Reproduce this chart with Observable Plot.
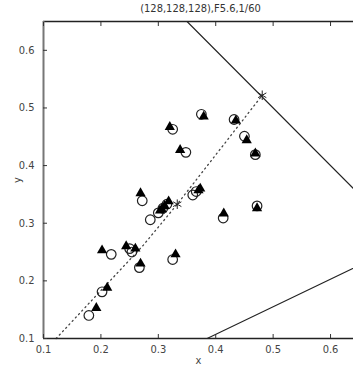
<!DOCTYPE html>
<html>
<head>
<meta charset="utf-8">
<script src="https://cdn.jsdelivr.net/npm/d3@7"></script>
<script src="https://cdn.jsdelivr.net/npm/@observablehq/plot@0.6"></script>
<style>
  html, body { margin: 0; padding: 0; background: #fff; overflow: hidden; }
  #title { height: 16px; width: 353px; font: 11px "DejaVu Sans Condensed", "Liberation Sans Narrow", sans-serif; color: #333; text-align: center; line-height: 17px; padding-left: 48px; box-sizing: border-box; }
</style>
</head>
<body>
<div id="title">(128,128,128),F5.6,1/60</div>
<div id="chart"></div>
<script>
// Open circles (x, y)
const circleX = [0.179, 0.202, 0.218, 0.254, 0.250, 0.267, 0.325, 0.286, 0.272, 0.300, 0.308, 0.315, 0.360, 0.366, 0.413, 0.472, 0.469, 0.450, 0.432, 0.375, 0.325, 0.348];
const circleY = [0.140, 0.181, 0.246, 0.250, 0.256, 0.223, 0.237, 0.306, 0.339, 0.318, 0.326, 0.333, 0.349, 0.355, 0.309, 0.330, 0.419, 0.451, 0.480, 0.489, 0.463, 0.423];
// Filled triangles (x, y)
const triX = [0.192, 0.211, 0.202, 0.244, 0.260, 0.269, 0.330, 0.303, 0.269, 0.306, 0.311, 0.318, 0.370, 0.373, 0.414, 0.472, 0.469, 0.454, 0.435, 0.379, 0.320, 0.338];
const triY = [0.153, 0.188, 0.253, 0.260, 0.256, 0.230, 0.246, 0.322, 0.352, 0.324, 0.330, 0.338, 0.357, 0.360, 0.317, 0.326, 0.421, 0.444, 0.478, 0.485, 0.467, 0.427];
// Asterisks
const starX = [0.333, 0.481];
const starY = [0.333, 0.522];
// Dotted line
const dotX = [0.122, 0.274, 0.333, 0.481];
const dotY = [0.100, 0.262, 0.333, 0.522];
// Solid lines
const line1X = [0.35, 0.65];
const line1Y = [0.65, 0.35];
const line2X = [0.385, 0.65];
const line2Y = [0.100, 0.227];
// Ticks
const xTicks = [0.1, 0.2, 0.3, 0.4, 0.5, 0.6];
const yTicks = [0.1, 0.2, 0.3, 0.4, 0.5, 0.6];

const circles = circleX.map((x, i) => ({x, y: circleY[i]}));
const tris = triX.map((x, i) => ({x, y: triY[i]}));
const stars = starX.map((x, i) => ({x, y: starY[i]}));
const dots = dotX.map((x, i) => ({x, y: dotY[i]}));
const l1 = line1X.map((x, i) => ({x, y: line1Y[i]}));
const l2 = line2X.map((x, i) => ({x, y: line2Y[i]}));

const font = '"DejaVu Sans Condensed", "Liberation Sans Narrow", sans-serif';

const chart = Plot.plot({
  width: 353,
  height: 353,
  marginLeft: 43,
  marginRight: 0,
  marginTop: 5,
  marginBottom: 31,
  style: {fontFamily: font, fontSize: "11px", color: "#444", background: "#fff"},
  x: {domain: [0.1, 0.64]},
  y: {domain: [0.1, 0.65]},
  marks: [
    Plot.line(dots, {x: "x", y: "y", stroke: "#444", strokeWidth: 1.3, strokeDasharray: "1.2,3.5"}),
    Plot.line(l1, {x: "x", y: "y", stroke: "#222", strokeWidth: 1.1, clip: true}),
    Plot.line(l2, {x: "x", y: "y", stroke: "#222", strokeWidth: 1.1, clip: true}),
    Plot.dot(circles, {x: "x", y: "y", r: 4.8, stroke: "#222", strokeWidth: 1.2, fill: "none"}),
    Plot.dot(tris, {x: "x", y: "y", r: 3.8, symbol: "triangle", fill: "#000", stroke: "none"}),
    Plot.dot(stars, {x: "x", y: "y", r: 4.5, symbol: "asterisk", stroke: "#222", strokeWidth: 1}),
    Plot.ruleY([0.65], {stroke: "#222", strokeWidth: 1.3}),
    Plot.ruleY([0.1], {stroke: "#222", strokeWidth: 1.5}),
    Plot.ruleX([0.1], {stroke: "#777", strokeWidth: 2}),
    Plot.axisX({ticks: xTicks, tickSize: -4, tickPadding: 11, tickFormat: d3.format(".1f"), label: "x", labelAnchor: "center", labelArrow: "none", labelOffset: 25, stroke: "#333"}),
    Plot.axisX({anchor: "top", ticks: xTicks, tickSize: -4, tickFormat: () => "", label: null, stroke: "#333"}),
    Plot.axisY({ticks: yTicks, tickSize: -4, tickPadding: 13, tickFormat: d3.format(".1f"), label: "y", labelAnchor: "center", labelArrow: "none", labelOffset: 30, stroke: "#333"})
  ]
});
document.getElementById("chart").appendChild(chart);
</script>
</body>
</html>
